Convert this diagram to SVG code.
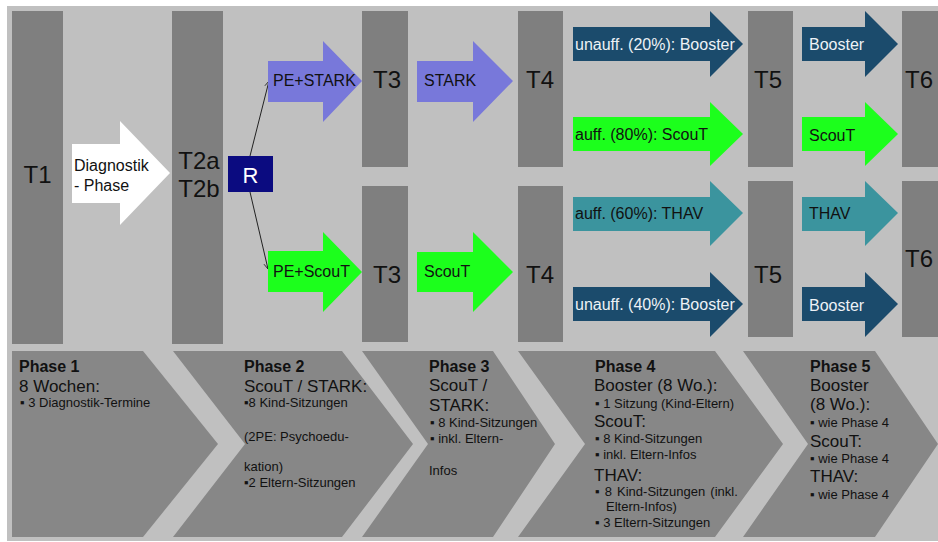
<svg xmlns="http://www.w3.org/2000/svg" width="938" height="542" viewBox="0 0 938 542">
<style>
text{font-family:"Liberation Sans",Arial,sans-serif;}
.bar{fill:#7f7f7f;}
.chev{fill:#878787;}
.tl{font-size:24px;fill:#111;}
.al{font-size:16px;fill:#111;}
.aw{font-size:16px;fill:#eef2f6;}
.ph{font-size:16px;font-weight:bold;fill:#111;}
.md{font-size:17px;fill:#111;}
.sm{font-size:13px;fill:#111;}
.purple{fill:#7878da;}
.green{fill:#1cff1c;}
.dblue{fill:#1b4b6c;}
.teal{fill:#3b949e;}
.con{stroke:#222;stroke-width:1;fill:none;}
</style>
<defs>
<marker id="ah" viewBox="0 0 10 10" refX="9" refY="5" markerWidth="7" markerHeight="7" orient="auto" markerUnits="userSpaceOnUse">
<path d="M1,1 L9,5 L1,9" fill="none" stroke="#222" stroke-width="1.2"/>
</marker>
</defs>
<rect x="0" y="0" width="938" height="542" fill="#ffffff"/>
<rect x="7" y="6" width="931" height="535" fill="#c0c0c0"/>

<g id="T1"><rect class="bar" x="12" y="11" width="51" height="333"/><text class="tl" x="37.5" y="183" text-anchor="middle">T1</text></g>
<g id="T2"><rect class="bar" x="172" y="11" width="51" height="333"/><text class="tl" x="199" y="169" text-anchor="middle">T2a</text><text class="tl" x="199" y="197" text-anchor="middle">T2b</text></g>
<g id="T3a"><rect class="bar" x="362" y="11" width="46" height="156"/><text class="tl" x="387" y="88" text-anchor="middle">T3</text></g>
<g id="T3b"><rect class="bar" x="362" y="186" width="46" height="156"/><text class="tl" x="387" y="283" text-anchor="middle">T3</text></g>
<g id="T4a"><rect class="bar" x="518" y="11" width="45" height="156"/><text class="tl" x="540" y="88" text-anchor="middle">T4</text></g>
<g id="T4b"><rect class="bar" x="518" y="186" width="45" height="156"/><text class="tl" x="540" y="283" text-anchor="middle">T4</text></g>
<g id="T5a"><rect class="bar" x="748" y="11" width="45" height="156"/><text class="tl" x="768" y="88" text-anchor="middle">T5</text></g>
<g id="T5b"><rect class="bar" x="748" y="181" width="45" height="156"/><text class="tl" x="768" y="283" text-anchor="middle">T5</text></g>
<g id="T6a"><rect class="bar" x="902" y="11" width="40" height="156"/><text class="tl" x="905" y="88">T6</text></g>
<g id="T6b"><rect class="bar" x="902" y="181" width="40" height="156"/><text class="tl" x="905" y="267">T6</text></g>

<g id="diag"><polygon fill="#ffffff" points="72,144 120,144 120,121 170,173 120,225 120,203 72,203"/><text class="al" x="74" y="171">Diagnostik</text><text class="al" x="74" y="191">- Phase</text></g>

<g id="R"><rect x="228" y="156" width="45" height="36" fill="#0b0b80"/><text x="250.5" y="183" font-size="22" fill="#ffffff" text-anchor="middle">R</text></g>

<g id="connectors">
<line class="con" x1="250" y1="156" x2="269" y2="81" marker-end="url(#ah)"/>
<line class="con" x1="250" y1="192" x2="268" y2="269" marker-end="url(#ah)"/>
</g>

<g id="pestark"><polygon class="purple" points="268,61 323,61 323,41 362,81 323,122 323,102 268,102"/><text class="al" x="273" y="86">PE+STARK</text></g>
<g id="stark"><polygon class="purple" points="417,61 473,61 473,41 513,81 473,122 473,102 417,102"/><text class="al" x="424" y="86">STARK</text></g>
<g id="pescout"><polygon class="green" points="268,251 323,251 323,232 362,272 323,312 323,292 268,292"/><text class="al" x="273" y="277">PE+ScouT</text></g>
<g id="scout"><polygon class="green" points="417,252 473,252 473,232 513,272 473,312 473,292 417,292"/><text class="al" x="424" y="277">ScouT</text></g>

<g id="unauff20"><polygon class="dblue" points="573,27 710,27 710,11 743,44 710,77 710,61 573,61"/><text class="aw" x="575" y="50">unauff. (20%): Booster</text></g>
<g id="auff80"><polygon class="green" points="573,117 710,117 710,102 743,134 710,166 710,151 573,151"/><text class="al" x="575" y="140">auff. (80%): ScouT</text></g>
<g id="auff60"><polygon class="teal" points="573,197 710,197 710,181 743,213 710,246 710,231 573,231"/><text class="al" x="575" y="219">auff. (60%): THAV</text></g>
<g id="unauff40"><polygon class="dblue" points="573,287 710,287 710,272 743,304 710,337 710,321 573,321"/><text class="aw" x="575" y="310">unauff. (40%): Booster</text></g>

<g id="booster1"><polygon class="dblue" points="802,27 865,27 865,11 898,44 865,77 865,61 802,61"/><text class="aw" x="809" y="50">Booster</text></g>
<g id="scout2"><polygon class="green" points="802,117 865,117 865,102 898,134 865,166 865,151 802,151"/><text class="al" x="809" y="141">ScouT</text></g>
<g id="thav"><polygon class="teal" points="802,197 865,197 865,181 898,213 865,246 865,231 802,231"/><text class="al" x="809" y="219">THAV</text></g>
<g id="booster2"><polygon class="dblue" points="802,287 865,287 865,272 898,304 865,337 865,321 802,321"/><text class="aw" x="809" y="311">Booster</text></g>

<g id="phase1"><polygon class="chev" points="12,351 143,351 218,444 143,537 12,537"/>
<text class="ph" x="19" y="372">Phase 1</text>
<text class="md" x="19" y="392">8 Wochen:</text>
<text class="sm" x="20" y="407">▪ 3 Diagnostik-Termine</text></g>

<g id="phase2"><polygon class="chev" points="173,351 342,351 413,444 342,537 173,537 245,444"/>
<text class="ph" x="244" y="372">Phase 2</text>
<text class="md" x="244" y="392">ScouT / STARK:</text>
<text class="sm" x="244" y="407">▪8 Kind-Sitzungen</text>
<text class="sm" x="244" y="441">(2PE: Psychoedu-</text>
<text class="sm" x="244" y="471">kation)</text>
<text class="sm" x="244" y="487">▪2 Eltern-Sitzungen</text></g>

<g id="phase3"><polygon class="chev" points="362,351 493,351 555,444 493,537 362,537 428,444"/>
<text class="ph" x="429" y="372">Phase 3</text>
<text class="md" x="429" y="391">ScouT /</text>
<text class="md" x="429" y="411">STARK:</text>
<text class="sm" x="430" y="427">▪ 8 Kind-Sitzungen</text>
<text class="sm" x="430" y="443">▪ inkl. Eltern-</text>
<text class="sm" x="429" y="475">Infos</text></g>

<g id="phase4"><polygon class="chev" points="518,351 715,351 783,444 715,537 518,537 585,444"/>
<text class="ph" x="595" y="372">Phase 4</text>
<text class="md" x="594" y="391">Booster (8 Wo.):</text>
<text class="sm" x="595" y="408">▪ 1 Sitzung (Kind-Eltern)</text>
<text class="md" x="594" y="427">ScouT:</text>
<text class="sm" x="595" y="443">▪ 8 Kind-Sitzungen</text>
<text class="sm" x="595" y="459">▪ inkl. Eltern-Infos</text>
<text class="md" x="594" y="481">THAV:</text>
<text class="sm" x="595" y="496" word-spacing="1.5">▪ 8 Kind-Sitzungen (inkl.</text>
<text class="sm" x="606" y="511">Eltern-Infos)</text>
<text class="sm" x="595" y="527">▪ 3 Eltern-Sitzungen</text></g>

<g id="phase5"><polygon class="chev" points="743,351 875,351 938,444 875,537 743,537 808,444"/>
<text class="ph" x="810" y="372">Phase 5</text>
<text class="md" x="810" y="391">Booster</text>
<text class="md" x="810" y="410">(8 Wo.):</text>
<text class="sm" x="810" y="427">▪ wie Phase 4</text>
<text class="md" x="810" y="447">ScouT:</text>
<text class="sm" x="810" y="463">▪ wie Phase 4</text>
<text class="md" x="810" y="482">THAV:</text>
<text class="sm" x="810" y="499">▪ wie Phase 4</text></g>
</svg>
